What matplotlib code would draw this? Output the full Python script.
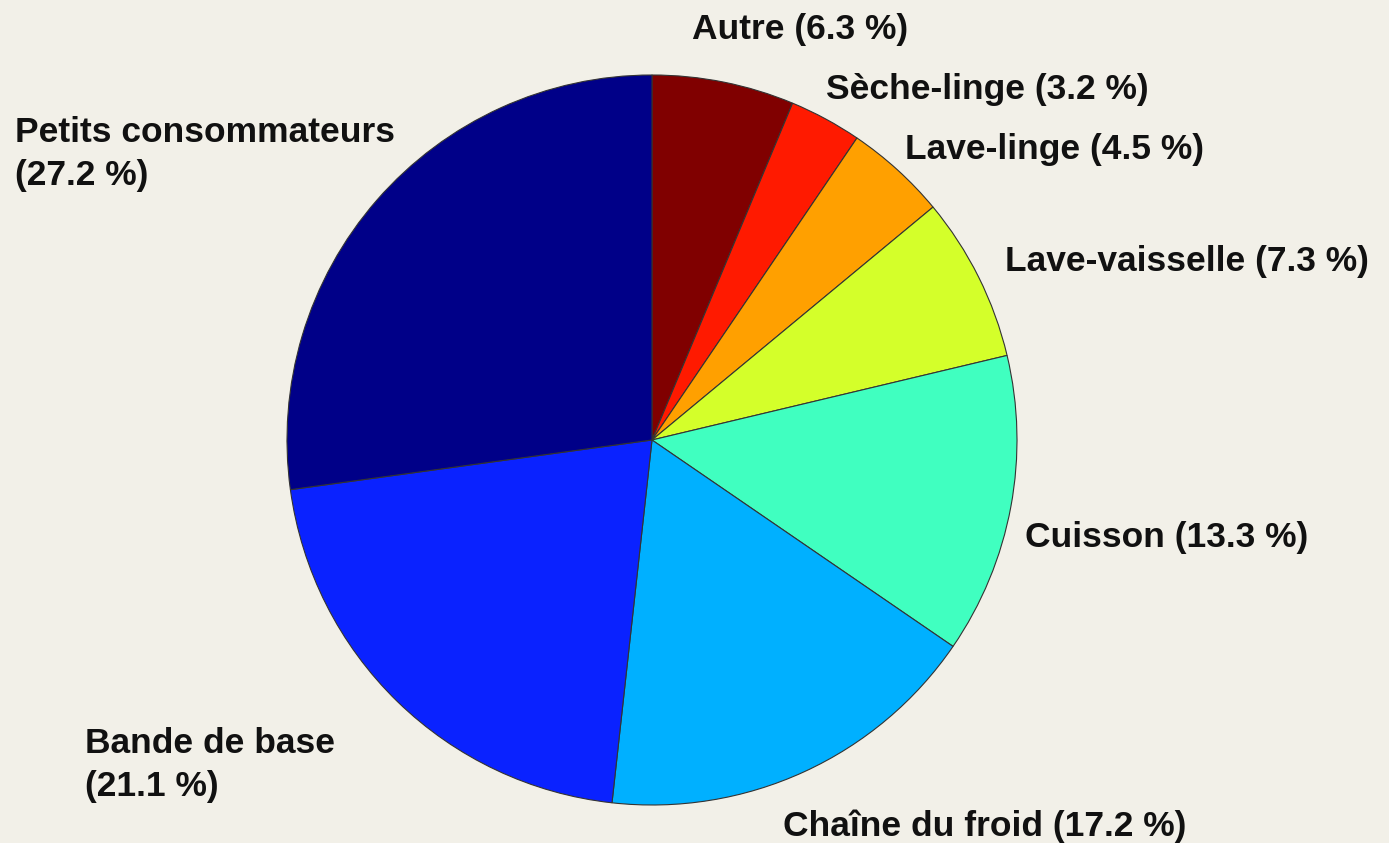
import matplotlib
matplotlib.use("Agg")
import matplotlib.pyplot as plt

# Shares going clockwise from 12 o'clock
labels = ["Autre", "Sèche-linge", "Lave-linge", "Lave-vaisselle",
          "Cuisson", "Chaîne du froid", "Bande de base", "Petits consommateurs"]
shares = [6.3, 3.2, 4.5, 7.3, 13.3, 17.2, 21.1, 27.2]
colors = ["#800000", "#ff1a00", "#ffa000", "#d4ff2a",
          "#40ffc0", "#00b0ff", "#0a22ff", "#000088"]

# label text layout: (x px, y px from top, wrapped)
label_pos = [(692, 30, False), (826, 90, False), (905, 150, False), (1005, 262, False),
             (1025, 537, False), (783, 826, False), (85, 765, True), (15, 154, True)]

W, H = 1389, 843
bg = "#f2f0e8"
fig = plt.figure(figsize=(W / 100, H / 100), dpi=100, facecolor=bg)

cx, cy, r = 652, 440, 365
ax = fig.add_axes([(cx - r) / W, (H - cy - r) / H, 2 * r / W, 2 * r / H])
ax.set_facecolor(bg)
ax.pie(shares, colors=colors, startangle=90, counterclock=False, radius=1,
       wedgeprops=dict(edgecolor="#333333", linewidth=0.8))
ax.set_xlim(-1, 1)
ax.set_ylim(-1, 1)
ax.set_aspect("equal")
ax.axis("off")

for name, val, (x, y, wrap) in zip(labels, shares, label_pos):
    sep = "\n" if wrap else " "
    fig.text(x / W, 1 - y / H, f"{name}{sep}({val} %)", ha="left", va="center",
             fontsize=25.5, fontweight="bold", family="Liberation Sans",
             color="#111111", linespacing=1.38)

fig.savefig("out.png", dpi=100, facecolor=bg)
